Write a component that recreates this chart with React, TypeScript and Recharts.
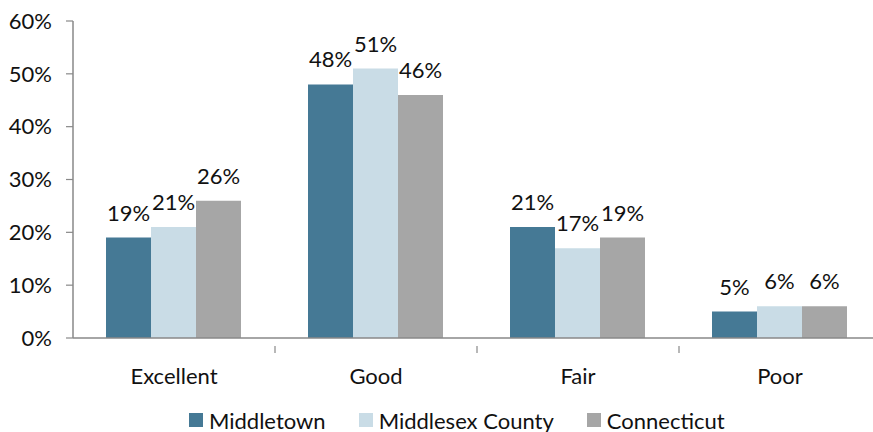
import React from "react";
import { BarChart, Bar, XAxis, YAxis, LabelList, Legend } from "recharts";

const categories = ["Excellent", "Good", "Fair", "Poor"];
const middletown = [19, 48, 21, 5];
const middlesex = [21, 51, 17, 6];
const connecticut = [26, 46, 19, 6];
const yTicks = [0, 10, 20, 30, 40, 50, 60];

const seriesNames = ["Middletown", "Middlesex County", "Connecticut"];
const colors = ["#457995", "#c9dce6", "#a6a6a6"];

const data = categories.map((c, i) => ({
  cat: c,
  m: middletown[i],
  mc: middlesex[i],
  ct: connecticut[i],
}));

const FONT = "Lato, 'Open Sans', sans-serif";
const FS = 22;
const AXIS = "#898989";
const CHART_W = 881;
const LEFT = 73;
const BAND = (CHART_W - LEFT) / categories.length;

const XTick = (props: any) => {
  const { x, y, payload } = props;
  return (
    <g>
      <line x1={x + BAND / 2} y1={y} x2={x + BAND / 2} y2={y + 7} stroke={AXIS} strokeWidth={1.2} />
      <text x={x} y={y + 38} textAnchor="middle" fontSize={FS} fontFamily={FONT} fill="#111">
        {payload.value}
      </text>
    </g>
  );
};

const LegendContent = () => (
  <div style={{ display: "flex", alignItems: "center", paddingLeft: 189, height: 24, fontFamily: FONT, fontSize: FS, color: "#111" }}>
    {seriesNames.map((n, i) => (
      <div key={n} style={{ display: "flex", alignItems: "center", marginRight: 33 }}>
        <div style={{ width: 14, height: 14, background: colors[i], marginRight: 6 }} />
        <span>{n}</span>
      </div>
    ))}
  </div>
);

const fmt = (v: number) => `${v}%`;

export default function App() {
  return (
    <div style={{ position: "absolute", left: 0, top: 0, width: 873, height: 432, overflow: "hidden", background: "#fff" }}>
      <BarChart
        width={CHART_W}
        height={432}
        data={data}
        margin={{ top: 21, right: 0, left: 0, bottom: 0 }}
        barCategoryGap={33}
        barGap={0}
      >
        <YAxis
          width={LEFT}
          domain={[0, 60]}
          ticks={yTicks}
          tickFormatter={fmt}
          axisLine={{ stroke: AXIS, strokeWidth: 1.5 }}
          tickLine={{ stroke: AXIS, strokeWidth: 1.2 }}
          tickSize={7}
          tickMargin={14}
          tick={{ fontSize: FS, fontFamily: FONT, fill: "#111" }}
          interval={0}
        />
        <XAxis
          dataKey="cat"
          height={70}
          tickLine={false}
          axisLine={{ stroke: AXIS, strokeWidth: 1.5 }}
          tick={<XTick />}
          interval={0}
        />
        <Legend verticalAlign="bottom" content={<LegendContent />} wrapperStyle={{ left: 0, bottom: 0, width: CHART_W, height: 24 }} />
        <Bar dataKey="m" name={seriesNames[0]} fill={colors[0]} isAnimationActive={false}>
          <LabelList dataKey="m" position="top" offset={17} formatter={fmt} style={{ fontSize: FS, fontFamily: FONT, fill: "#111" }} />
        </Bar>
        <Bar dataKey="mc" name={seriesNames[1]} fill={colors[1]} isAnimationActive={false}>
          <LabelList dataKey="mc" position="top" offset={17} formatter={fmt} style={{ fontSize: FS, fontFamily: FONT, fill: "#111" }} />
        </Bar>
        <Bar dataKey="ct" name={seriesNames[2]} fill={colors[2]} isAnimationActive={false}>
          <LabelList dataKey="ct" position="top" offset={17} formatter={fmt} style={{ fontSize: FS, fontFamily: FONT, fill: "#111" }} />
        </Bar>
      </BarChart>
    </div>
  );
}
